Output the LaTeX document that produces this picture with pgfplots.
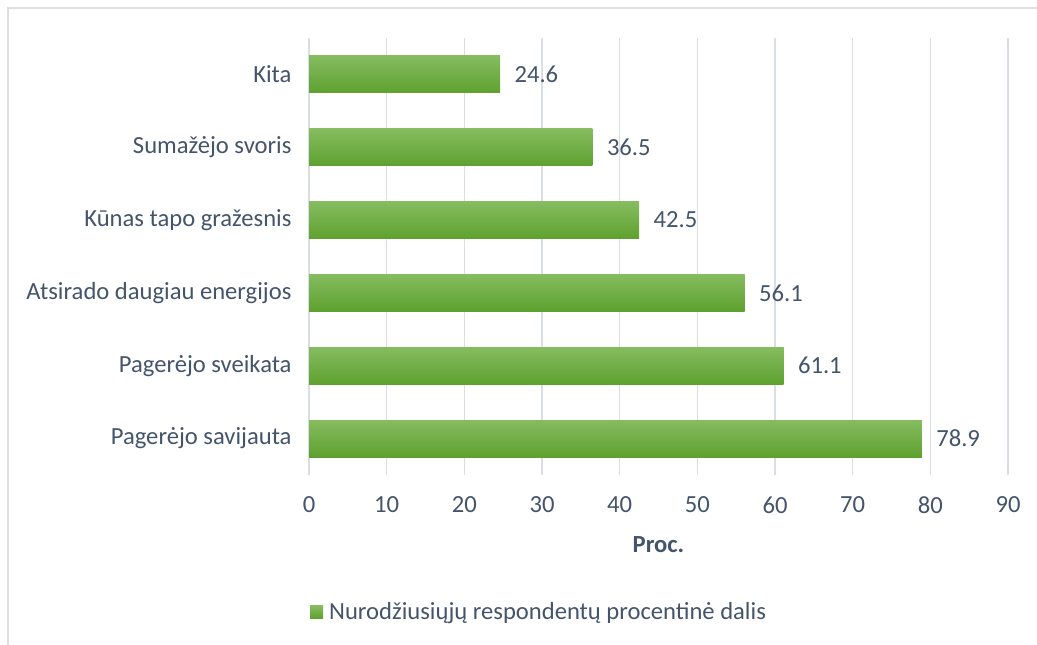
\documentclass[border=0pt]{standalone}
\usepackage{fontspec}
\setmainfont{Carlito}
\usepackage{pgfplots}
\pgfplotsset{compat=1.18}
\definecolor{txt}{HTML}{44546A}
\definecolor{gridc}{HTML}{D9DEE6}
\definecolor{frame}{HTML}{DDDFE3}
\definecolor{gtop}{HTML}{86BC60}
\definecolor{gbot}{HTML}{5EA12F}
\begin{document}
\begin{tikzpicture}
\useasboundingbox (0bp,0bp) rectangle (1037bp,645bp);
\draw[frame,line width=1.2bp] (8bp,0bp) -- (8bp,637bp) -- (1037bp,637bp);
\begin{axis}[
    at={(309bp,170bp)}, anchor=south west,
    scale only axis,
    width=699bp, height=437bp,
    xbar, bar width=37bp, bar shift=0pt,
    xmin=0, xmax=90,
    ymin=-0.5, ymax=5.5,
    xtick={0,10,...,90},
    ytick={0,...,5},
    yticklabels={Pagerėjo savijauta,Pagerėjo sveikata,Atsirado daugiau energijos,Kūnas tapo gražesnis,Sumažėjo svoris,Kita},
    axis line style={draw=none},
    major tick length=0pt,
    xmajorgrids, grid style={gridc,line width=1.4bp},
    font=\fontsize{24.7}{29}\selectfont,
    every tick label/.append style={text=txt},
    /pgf/number format/assume math mode=true,
    xticklabel style={yshift=-18bp},
    yticklabel style={xshift=-14bp},
    xlabel={\textbf{Proc.}},
    xlabel style={text=txt, at={(axis description cs:0.5,-0.16)}, anchor=center},
    nodes near coords,
    nodes near coords style={text=txt, anchor=west, xshift=11bp,
        /pgf/number format/.cd, fixed, fixed zerofill, precision=1, assume math mode=true},
    legend style={at={(axis description cs:0.0014,-0.3135)}, anchor=west,
        draw=none, fill=none, inner sep=0pt, text=txt,
        legend cell align=left},
    legend image code/.code={\fill[gbot!60!gtop] (0,-6.5bp) rectangle (13bp,6.5bp); \path (17bp,0);},
    every axis plot/.append style={draw=none, top color=gtop, bottom color=gbot},
]
\addplot coordinates {(78.9,0)};
\addlegendentry{Nurodžiusiųjų respondentų procentinė dalis}
\addplot+[forget plot] coordinates {(61.1,1)};
\addplot+[forget plot] coordinates {(56.1,2)};
\addplot+[forget plot] coordinates {(42.5,3)};
\addplot+[forget plot] coordinates {(36.5,4)};
\addplot+[forget plot] coordinates {(24.6,5)};
\end{axis}
\end{tikzpicture}
\end{document}
